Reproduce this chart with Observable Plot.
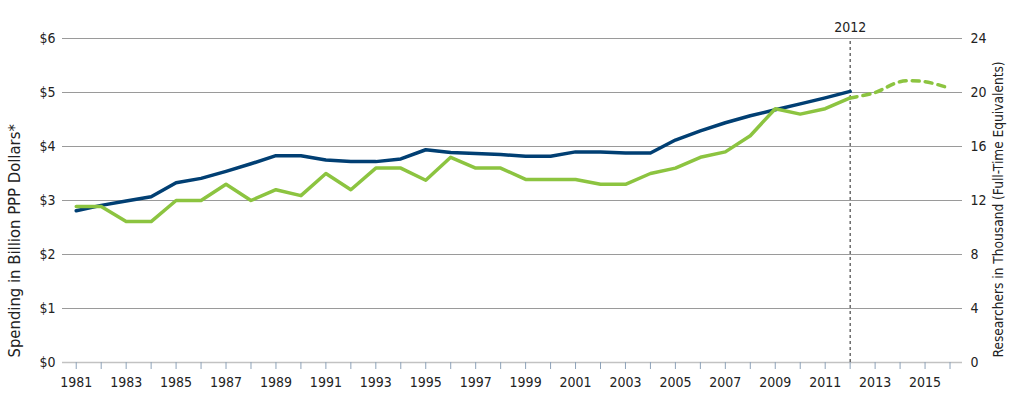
<!DOCTYPE html>
<html><head><meta charset="utf-8">
<script src="https://cdn.jsdelivr.net/npm/d3@7"></script>
<script src="https://cdn.jsdelivr.net/npm/@observablehq/plot@0.6"></script>
<style>body{margin:0;background:#fff}</style>
</head><body><div id="chart"></div>
<script>
const years = [1981,1982,1983,1984,1985,1986,1987,1988,1989,1990,1991,1992,1993,1994,1995,1996,1997,1998,1999,2000,2001,2002,2003,2004,2005,2006,2007,2008,2009,2010,2011,2012];
const spending = [2.81,2.91,2.99,3.07,3.33,3.41,3.54,3.68,3.83,3.83,3.75,3.72,3.72,3.77,3.94,3.89,3.87,3.85,3.82,3.82,3.90,3.90,3.88,3.88,4.12,4.29,4.44,4.57,4.68,4.79,4.90,5.02];
const researchers = [11.56,11.56,10.44,10.44,12.0,12.0,13.2,12.0,12.8,12.36,14.0,12.8,14.4,14.4,13.5,15.2,14.4,14.4,13.56,13.56,13.56,13.2,13.2,14.0,14.4,15.2,15.6,16.8,18.8,18.4,18.8,19.6];
const projYears = [2012,2013,2014,2015,2016];
const projResearchers = [19.6,20.0,20.8,20.8,20.3];
const tickYears = [1981,1982,1983,1984,1985,1986,1987,1988,1989,1990,1991,1992,1993,1994,1995,1996,1997,1998,1999,2000,2001,2002,2003,2004,2005,2006,2007,2008,2009,2010,2011,2012,2013,2014,2015,2016];
const labelYears = [1981,1983,1985,1987,1989,1991,1993,1995,1997,1999,2001,2003,2005,2007,2009,2011,2013,2015];
const leftTicks = [0,1,2,3,4,5,6];
const leftLabels = ["$0","$1","$2","$3","$4","$5","$6"];
const rightLabels = ["0","4","8","12","16","20","24"];
const markerYear = 2012;
const leftTitle = "Spending in Billion PPP Dollars*";
const rightTitle = "Researchers in Thousand (Full-Time Equivalents)";

const ratio = 4; // researchers (thousand) per $1 billion on the shared scale
const spendData = years.map((y, i) => ({year: y, value: spending[i]}));
const resData = years.map((y, i) => ({year: y, value: researchers[i] / ratio}));
const projData = projYears.map((y, i) => ({year: y, value: projResearchers[i] / ratio}));

const font = "'Liberation Sans Narrow', 'DejaVu Sans Condensed', 'Roboto', sans-serif";
const chart = Plot.plot({
  width: 1024,
  height: 414,
  marginTop: 38,
  marginBottom: 52,
  marginLeft: 62,
  marginRight: 62,
  style: {fontFamily: font, fontSize: "14px", color: "#222", background: "#fff"},
  x: {domain: [1980.45, 2016.5]},
  y: {domain: [0, 6]},
  marks: [
    Plot.ruleY(leftTicks.slice(1), {stroke: "#9a9a9a", strokeWidth: 1}),
    Plot.ruleY([0], {stroke: "#c2c2c2", strokeWidth: 1.5}),
    Plot.axisX({ticks: tickYears, tickSize: 7, tickPadding: 8, stroke: "#8ea3b9", fill: "#222",
      tickFormat: d => labelYears.includes(d) ? String(d) : "", label: null}),
    Plot.axisY({anchor: "left", ticks: leftTicks, tickSize: 0, tickPadding: 7,
      tickFormat: d => leftLabels[leftTicks.indexOf(d)], label: null}),
    Plot.axisY({anchor: "right", ticks: leftTicks, tickSize: 0, tickPadding: 8,
      tickFormat: d => rightLabels[leftTicks.indexOf(d)], label: null}),
    Plot.ruleX([markerYear], {y1: 0, y2: 6, stroke: "#222", strokeWidth: 1, strokeDasharray: "3,3"}),
    Plot.text([markerYear], {x: d => d, y: 6, dy: -11, text: d => String(d), fill: "#222"}),
    Plot.line(spendData, {x: "year", y: "value", stroke: "#013f73", strokeWidth: 3.5}),
    Plot.line(resData, {x: "year", y: "value", stroke: "#8cc440", strokeWidth: 3.5}),
    Plot.line(projData, {x: "year", y: "value", stroke: "#8cc440", strokeWidth: 3.5,
      strokeDasharray: "7,6", curve: "catmull-rom"}),
    Plot.text([leftTitle], {frameAnchor: "bottom-left", dx: -43, dy: -5, rotate: -90, fontSize: 16.5,
      textAnchor: "start", text: d => d, fill: "#222"}),
    Plot.text([rightTitle], {frameAnchor: "bottom-right", dx: 40, dy: -5, rotate: -90, fontSize: 13.6,
      textAnchor: "start", text: d => d, fill: "#222"})
  ]
});
document.getElementById("chart").appendChild(chart);
</script>
</body></html>
